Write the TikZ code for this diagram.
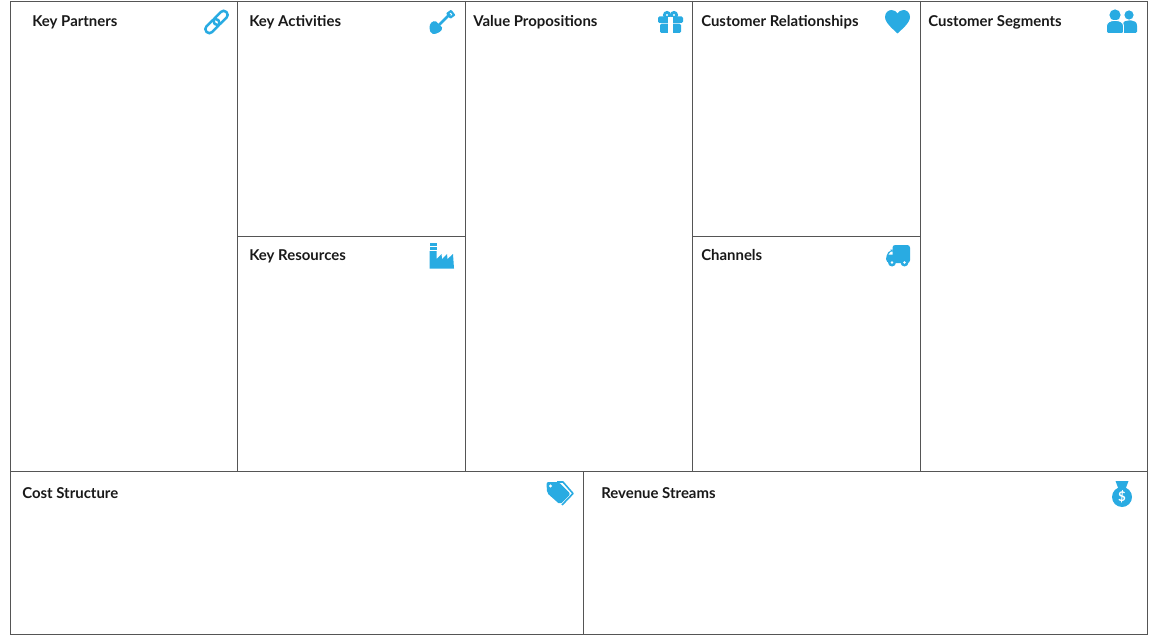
\documentclass[tikz,border=0pt]{standalone}
\usepackage{fontspec}
\setmainfont{Lato}
\usetikzlibrary{calc}
\definecolor{iconblue}{HTML}{29ABE2}
\definecolor{gridgray}{HTML}{555555}
\tikzset{
% Grid lines and panel titles
grid line/.style={draw=gridgray,line width=0.6pt},
panel title/.style={anchor=base west,inner sep=0,font=\fontsize{11.2}{13}\selectfont\bfseries,text=black!90},
% Icon styles: filled and cut out
icon/.style={fill=iconblue,draw=none},
icon line/.style={draw=iconblue,fill=none,line width=1.9pt},
icon cut/.style={fill=white,draw=none},
% The nine icons, drawn around their centres (units are pixels of the canvas)
link icon/.pic={
  \draw[icon line,rotate=45,rounded corners=2.8pt] (-14,-4) rectangle (2.5,4);
  \draw[icon line,rotate=45,rounded corners=2.8pt] (-2.5,-4) rectangle (14,4);
},
shovel icon/.pic={
  \fill[icon] (-12.5,6) .. controls (-13,1.5) and (-9,-2) .. (-6,-0.5) -- (0,5.5) .. controls (1.5,9) and (-6,12.5) .. (-9,12) .. controls (-11.5,11.5) and (-12.5,8.5) .. (-12.5,6) -- cycle;
  \draw[icon line,line width=1.9pt] (-5,5) -- (8,-8);
  \draw[icon line,line width=1.6pt,line join=round] (5.5,-8.5) -- (9,-11) -- (12,-7) -- (8.5,-4.5) -- cycle;
},
gift icon/.pic={
  \draw[icon line,line width=2.1pt] (-3.5,-7) circle (2.6);
  \draw[icon line,line width=2.1pt] (3.5,-7) circle (2.6);
  \fill[icon,rounded corners=1pt] (-12.5,-5.5) rectangle (12.5,1);
  \fill[icon,rounded corners=1pt] (-10.5,1.7) rectangle (10.5,11);
  \fill[icon cut] (-2.2,-5) rectangle (2.2,11);
},
heart icon/.pic={
  \fill[icon] (0,11.5) .. controls (-4,7.5) and (-12.5,1) .. (-12.5,-5) .. controls (-12.5,-9.5) and (-9,-12) .. (-6,-12) .. controls (-3.5,-12) and (-1,-10.5) .. (0,-8.5) .. controls (1,-10.5) and (3.5,-12) .. (6,-12) .. controls (9,-12) and (12.5,-9.5) .. (12.5,-5) .. controls (12.5,1) and (4,7.5) .. (0,11.5) -- cycle;
},
people icon/.pic={
  \fill[icon] (7,-7) circle (4.6);
  \fill[icon,rounded corners=1pt] (1,11) -- (1,4) .. controls (1,-1) and (4,-1.5) .. (8,-1.5) .. controls (12,-1.5) and (15,0) .. (15,5) -- (15,11) -- cycle;
  \fill[icon cut] (-7,-7) circle (6.6);
  \fill[icon] (-7,-7) circle (5.6);
  \path[fill=iconblue,draw=white,line width=0.7pt,rounded corners=1pt] (-15.5,11.5) -- (-15.5,5) .. controls (-15.5,0) and (-11,-1.5) .. (-7,-1.5) .. controls (-3,-1.5) and (1.5,0) .. (1.5,5) -- (1.5,11.5) -- cycle;
},
factory icon/.pic={
  \fill[icon] (-12.5,-13) rectangle (-5.5,-10);
  \fill[icon] (-12.5,-9) rectangle (-5.5,-6);
  \fill[icon] (-12.5,-5) -- (-5.5,-5) -- (-5.5,3) -- (-0.5,-2) -- (0,3) -- (5,-2) -- (5.5,3) -- (11,-2) -- (12,12.5) -- (-12.5,12.5) -- cycle;
},
truck icon/.pic={
  \fill[icon,rounded corners=2pt] (-5.5,-11) rectangle (12,7);
  \fill[icon,rounded corners=3pt] (-12,7) -- (-12,-1) -- (-7.5,-6.5) -- (-4,-6.5) -- (-4,7) -- cycle;
  \fill[icon cut] (-9.5,-1.5) -- (-7,-4.5) -- (-5.5,-4.5) -- (-5.5,-1.5) -- cycle;
  \fill[icon] (-6,6.5) circle (4);
  \fill[icon] (6.5,6.5) circle (4);
  \fill[icon cut] (-6,6.5) circle (1.4);
  \fill[icon cut] (6.5,6.5) circle (1.4);
},
tag icon/.pic={
  \draw[iconblue,line width=1.2pt,line join=round] (-3,-11.5) -- (3,-11.5) -- (13,0) -- (2,11.5);
  \fill[icon,rounded corners=1.5pt] (-13.5,-11.5) -- (-1.5,-11.5) -- (10.5,0.5) -- (0,11) -- (-13,-0.5) -- cycle;
  \fill[icon cut] (-9.5,-7.5) circle (1.6);
},
bag icon/.pic={
  \fill[icon] (-6.5,-13) -- (6.5,-13) -- (3.5,-5) -- (-3.5,-5) -- cycle;
  \fill[icon] (0,3) circle (10);
  \node[inner sep=0,text=white,font=\fontsize{10}{10}\selectfont\bfseries] at (0,3) {\$};
}
}

\begin{document}
\begin{tikzpicture}[x=0.75pt,y=-0.75pt]
      % Fix the canvas to the size of the reference
      \useasboundingbox (0,0) rectangle (1159,638);
      % Outer frame
      \draw[grid line] (10.5,1) rectangle (1147.5,634);
      % Lines of the upper part
      \draw[grid line] (10.5,471) -- (1147.5,471);
      \draw[grid line] (237.5,1) -- (237.5,471);
      \draw[grid line] (465,1) -- (465,471);
      \draw[grid line] (692.5,1) -- (692.5,471);
      \draw[grid line] (920.5,1) -- (920.5,471);
      \draw[grid line] (237.5,236.5) -- (465,236.5);
      \draw[grid line] (692.5,236.5) -- (920.5,236.5);
      % Line of the lower part
      \draw[grid line] (583,471) -- (583,634);
      % Panel titles
      \node[panel title] (partners) at (32,26.5) {Key Partners};
      \node[panel title] (activities) at (249,26.5) {Key Activities};
      \node[panel title] (propositions) at (473,26.5) {Value Propositions};
      \node[panel title] (relationships) at (701,26.5) {Customer Relationships};
      \node[panel title] (segments) at (928,26.5) {Customer Segments};
      \node[panel title] (resources) at (249,260) {Key Resources};
      \node[panel title] (channels) at (701,260) {Channels};
      \node[panel title] (cost) at (22,498) {Cost Structure};
      \node[panel title] (revenue) at (601,498) {Revenue Streams};
      % Icons
      \pic at (216.5,22) {link icon};
      \pic at (442,22) {shovel icon};
      \pic at (670.5,22) {gift icon};
      \pic at (897.5,22) {heart icon};
      \pic at (1122,22) {people icon};
      \pic at (442,256) {factory icon};
      \pic at (898,256) {truck icon};
      \pic at (560,493.5) {tag icon};
      \pic at (1122,494) {bag icon};
    \end{tikzpicture}
\end{document}
